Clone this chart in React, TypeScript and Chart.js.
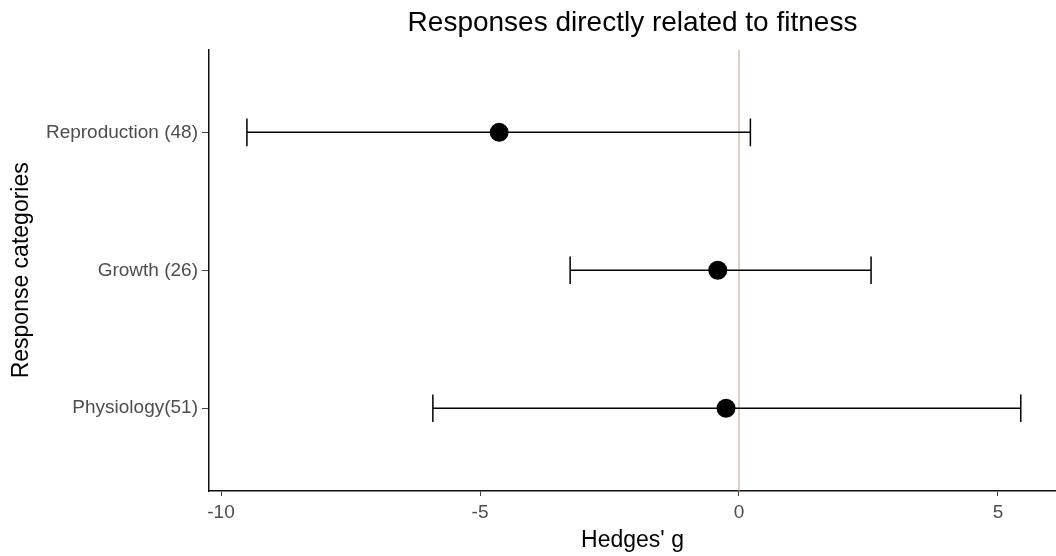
import React, { useEffect, useRef } from 'react';
import { Chart, registerables } from 'chart.js';

Chart.register(...registerables);

const categories = ['Reproduction (48)', 'Growth (26)', 'Physiology(51)'];
const categoryPositions = [1, 2, 3];
const estimates = [-4.63, -0.41, -0.25];
const lowerCI = [-9.5, -3.26, -5.91];
const upperCI = [0.22, 2.55, 5.44];
const xTicks = [-10, -5, 0, 5];

const FONT = '"Liberation Sans", Arial, Helvetica, sans-serif';

const errorBarPlugin = {
  id: 'errorBars',
  beforeDatasetsDraw(chart: any) {
    const { ctx, chartArea, scales } = chart;
    const x = scales.x;
    const y = scales.y;
    ctx.save();
    const x0 = x.getPixelForValue(0);
    ctx.strokeStyle = '#c9978b';
    ctx.lineWidth = 1;
    ctx.beginPath();
    ctx.moveTo(x0, chartArea.top);
    ctx.lineTo(x0, chartArea.bottom);
    ctx.stroke();

    ctx.strokeStyle = '#000';
    ctx.lineWidth = 1.5;
    categoryPositions.forEach((pos, i) => {
      const yc = y.getPixelForValue(pos);
      const yt = y.getPixelForValue(pos - 0.1);
      const yb = y.getPixelForValue(pos + 0.1);
      const xl = x.getPixelForValue(lowerCI[i]);
      const xu = x.getPixelForValue(upperCI[i]);
      ctx.beginPath();
      ctx.moveTo(xl, yc);
      ctx.lineTo(xu, yc);
      ctx.moveTo(xl, yt);
      ctx.lineTo(xl, yb);
      ctx.moveTo(xu, yt);
      ctx.lineTo(xu, yb);
      ctx.stroke();
    });
    ctx.restore();
  },
};

export default function App() {
  const canvasRef = useRef<HTMLCanvasElement | null>(null);

  useEffect(() => {
    if (!canvasRef.current) return;
    const chart = new Chart(canvasRef.current, {
      type: 'scatter',
      data: {
        datasets: [
          {
            data: estimates.map((v, i) => ({ x: v, y: categoryPositions[i] })),
            pointRadius: 9.5,
            pointHoverRadius: 9.5,
            backgroundColor: '#000',
            borderColor: '#000',
            borderWidth: 0,
          },
        ],
      },
      options: {
        animation: false,
        responsive: false,
        devicePixelRatio: 1,
        layout: { autoPadding: false, padding: { left: 0, right: 0, top: 0, bottom: 0 } },
        plugins: {
          legend: { display: false },
          tooltip: { enabled: false },
          title: {
            display: true,
            text: 'Responses directly related to fitness',
            fullSize: false,
            color: '#000',
            font: { family: FONT, size: 28, weight: 'normal' },
            padding: { top: 6, bottom: 10 },
          },
        },
        scales: {
          x: {
            type: 'linear',
            min: -10.232,
            max: 6.12,
            afterBuildTicks: (s: any) => {
              s.ticks = xTicks.map((v) => ({ value: v }));
            },
            afterFit: (s: any) => {
              s.height = 65;
            },
            ticks: {
              color: '#4d4d4d',
              font: { family: FONT, size: 19 },
              padding: 5,
              callback: (v: any) => String(v),
            },
            grid: {
              drawOnChartArea: false,
              tickLength: 5,
              color: '#444',
              tickWidth: 1,
            },
            border: { color: '#111', width: 1.5 },
            title: {
              display: true,
              text: "Hedges' g",
              color: '#000',
              font: { family: FONT, size: 23 },
              padding: { top: 0, bottom: 2 },
            },
          },
          y: {
            type: 'linear',
            min: 0.4,
            max: 3.6,
            reverse: true,
            afterBuildTicks: (s: any) => {
              s.ticks = categoryPositions.map((v) => ({ value: v }));
            },
            afterFit: (s: any) => {
              s.width = 209;
            },
            ticks: {
              color: '#4d4d4d',
              font: { family: FONT, size: 19 },
              padding: 4,
              callback: (v: any) => categories[categoryPositions.indexOf(Number(v))] ?? '',
            },
            grid: {
              drawOnChartArea: false,
              tickLength: 7,
              color: '#444',
              tickWidth: 1,
            },
            border: { color: '#111', width: 1.5 },
            title: {
              display: true,
              text: 'Response categories',
              color: '#000',
              font: { family: FONT, size: 23 },
              padding: { top: 8, bottom: 0 },
            },
          },
        },
      },
      plugins: [errorBarPlugin],
    } as any);
    return () => chart.destroy();
  }, []);

  return (
    <div style={{ position: 'fixed', left: 0, top: 0, width: 1056, height: 556, background: '#fff' }}>
      <canvas ref={canvasRef} width={1056} height={556} />
    </div>
  );
}
